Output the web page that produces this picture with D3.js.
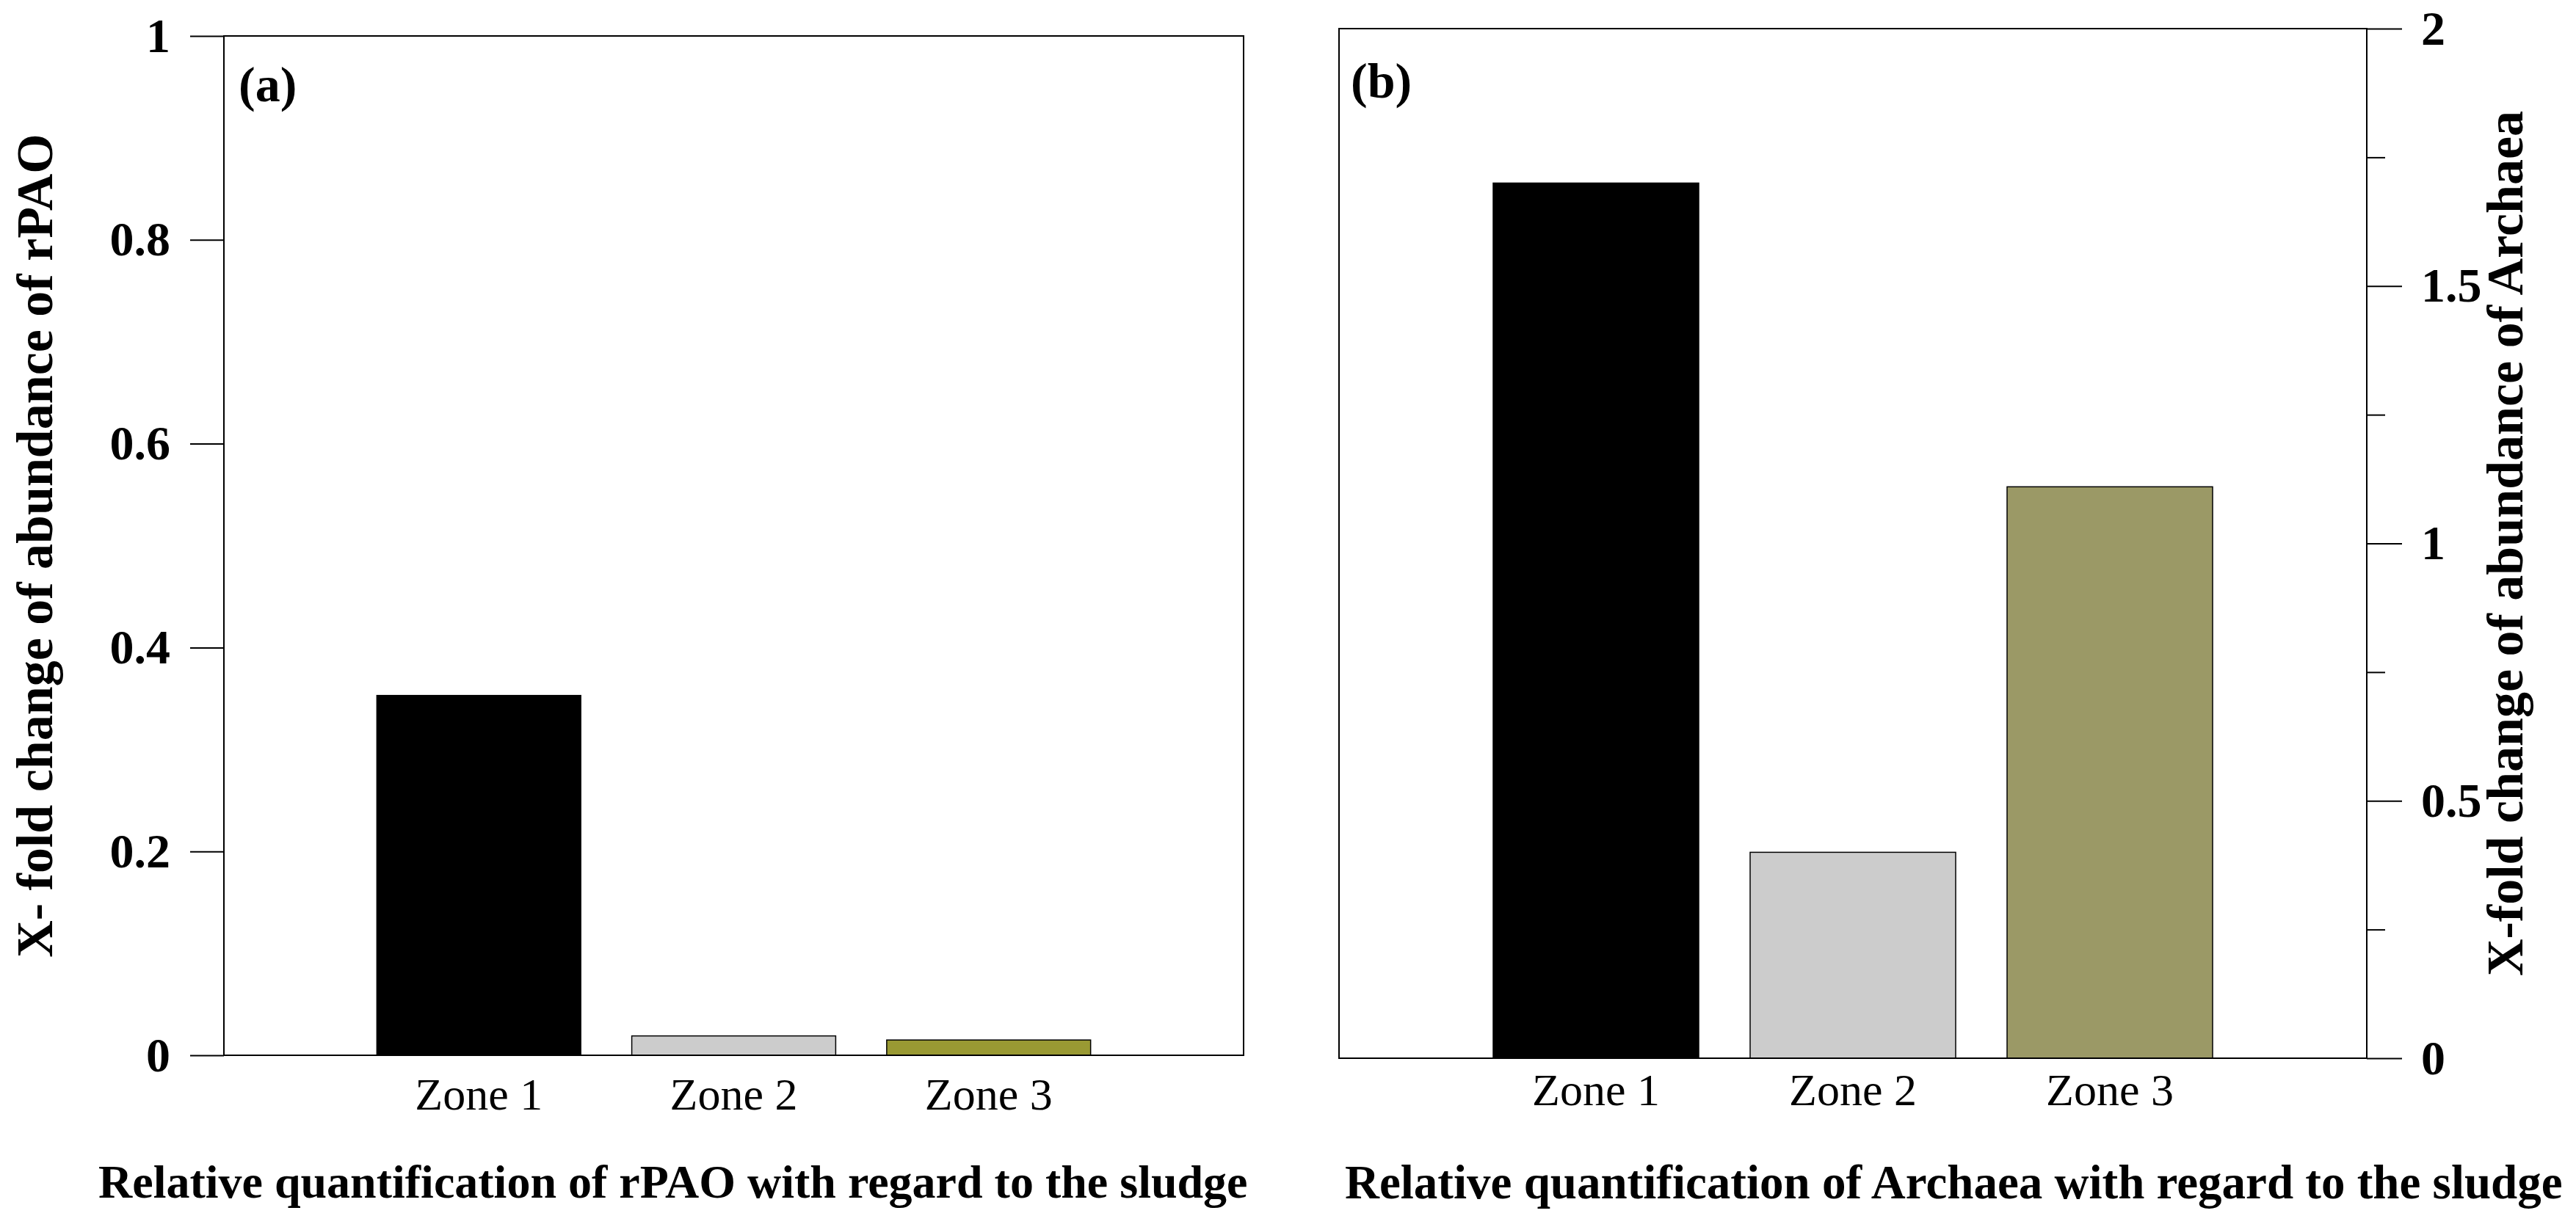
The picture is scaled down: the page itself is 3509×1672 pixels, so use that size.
<!DOCTYPE html>
<html>
<head>
<meta charset="utf-8">
<script src="https://cdn.jsdelivr.net/npm/d3@7"></script>
<style>
  body { margin: 0; background: #fff; }
  text { font-family: "Liberation Serif", "Times New Roman", serif; fill: #000; }
</style>
</head>
<body>
<div id="chart"></div>
<script>
// data
const zones = ["Zone 1", "Zone 2", "Zone 3"];
const rpaoValues = [0.353, 0.019, 0.015];
const archaeaValues = [1.70, 0.40, 1.11];
const rpaoTicks = [0, 0.2, 0.4, 0.6, 0.8, 1];
const archaeaTicks = [0, 0.5, 1, 1.5, 2];
const archaeaMinorTicks = [0.25, 0.75, 1.25, 1.75];

const rpaoColors = ["#000000", "#cccccc", "#999933"];
const archaeaColors = ["#000000", "#cccccc", "#9b9966"];

const W = 3509, H = 1672;
const svg = d3.select("#chart").append("svg")
  .attr("width", W).attr("height", H);
svg.append("rect").attr("width", W).attr("height", H).attr("fill", "#fff");

const fmt = d3.format("~g");

function panel(opts) {
  const { left, right, top, bottom, values, colors, ymax } = opts;
  const g = svg.append("g");

  const x = d3.scaleBand().domain(zones).range([left, right])
    .paddingInner(0.2).paddingOuter(0.6);
  const y = d3.scaleLinear().domain([0, ymax]).range([bottom, top]);

  // bars
  g.selectAll("rect.bar")
    .data(values)
    .enter().append("rect")
    .attr("class", "bar")
    .attr("x", (d, i) => x(zones[i]))
    .attr("width", x.bandwidth())
    .attr("y", d => y(d))
    .attr("height", d => bottom - y(d))
    .attr("fill", (d, i) => colors[i])
    .attr("stroke", "#000")
    .attr("stroke-width", 1.5);

  // frame
  g.append("rect")
    .attr("x", left).attr("y", top)
    .attr("width", right - left).attr("height", bottom - top)
    .attr("fill", "none").attr("stroke", "#000").attr("stroke-width", 2);

  // zone labels
  const xa = g.append("g")
    .attr("transform", `translate(0,${bottom})`)
    .call(d3.axisBottom(x).tickSize(0).tickPadding(opts.zonePad));
  xa.select(".domain").remove();
  xa.selectAll("text")
    .style("font-family", "Liberation Serif")
    .style("font-size", "62px");

  return { g, x, y };
}

// ---- panel (a) ----
const a = panel({
  left: 305, right: 1694, top: 49, bottom: 1438,
  values: rpaoValues, colors: rpaoColors, ymax: 1, zonePad: 30
});
const ya = a.g.append("g")
  .attr("transform", "translate(305,0)")
  .call(d3.axisLeft(a.y).tickValues(rpaoTicks).tickFormat(fmt).tickSize(46).tickPadding(27));
ya.select(".domain").remove();
ya.selectAll("line").attr("stroke-width", 2);
ya.selectAll("text")
  .style("font-family", "Liberation Serif")
  .style("font-weight", "bold").style("font-size", "66px");

a.g.append("text")
  .attr("x", 325).attr("y", 138)
  .style("font-weight", "bold").style("font-size", "68px")
  .text("(a)");

a.g.append("text")
  .attr("transform", `translate(71,${(49 + 1438) / 2}) rotate(-90)`)
  .attr("text-anchor", "middle")
  .style("font-weight", "bold").style("font-size", "70px")
  .text("X- fold change of abundance of rPAO");

a.g.append("text")
  .attr("x", 134).attr("y", 1632)
  .style("font-weight", "bold").style("font-size", "64px")
  .text("Relative quantification of rPAO with regard to the sludge");

// ---- panel (b) ----
const b = panel({
  left: 1824, right: 3224, top: 39, bottom: 1442,
  values: archaeaValues, colors: archaeaColors, ymax: 2, zonePad: 20
});
const yb = b.g.append("g")
  .attr("transform", "translate(3224,0)")
  .call(d3.axisRight(b.y).tickValues(archaeaTicks).tickFormat(fmt).tickSize(48).tickPadding(26));
yb.select(".domain").remove();
yb.selectAll("line").attr("stroke-width", 2);
yb.selectAll("text")
  .style("font-family", "Liberation Serif")
  .style("font-weight", "bold").style("font-size", "66px");

const ybMinor = b.g.append("g")
  .attr("transform", "translate(3224,0)")
  .call(d3.axisRight(b.y).tickValues(archaeaMinorTicks).tickFormat("").tickSize(25));
ybMinor.select(".domain").remove();
ybMinor.selectAll("line").attr("stroke-width", 2);

b.g.append("text")
  .attr("x", 1840).attr("y", 133)
  .style("font-weight", "bold").style("font-size", "68px")
  .text("(b)");

b.g.append("text")
  .attr("transform", `translate(3436,${(39 + 1442) / 2}) rotate(-90)`)
  .attr("text-anchor", "middle")
  .style("font-weight", "bold").style("font-size", "70px")
  .text("X-fold change of abundance of Archaea");

b.g.append("text")
  .attr("x", 1832).attr("y", 1633)
  .style("font-weight", "bold").style("font-size", "65px")
  .text("Relative quantification of Archaea with regard to the sludge");
</script>
</body>
</html>
